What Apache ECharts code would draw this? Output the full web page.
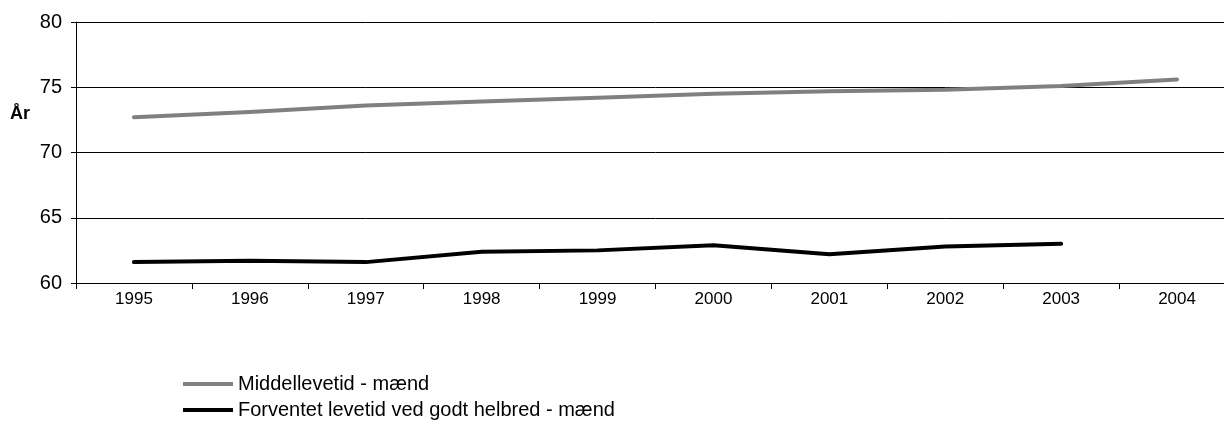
<!DOCTYPE html>
<html>
<head>
<meta charset="utf-8">
<script src="https://cdn.jsdelivr.net/npm/echarts@6/dist/echarts.min.js"></script>
<style>
html,body{margin:0;padding:0;background:#fff;overflow:hidden;width:1224px;height:429px;}
#c{width:1240px;height:429px;}
</style>
</head>
<body>
<div id="c"></div>
<script>
const years = ['1995','1996','1997','1998','1999','2000','2001','2002','2003','2004'];
const seriesNames = ['Middellevetid - mænd', 'Forventet levetid ved godt helbred - mænd'];
const middellevetid = [72.7, 73.1, 73.6, 73.9, 74.2, 74.5, 74.7, 74.8, 75.1, 75.6];
const godtHelbred = [61.6, 61.7, 61.6, 62.4, 62.5, 62.9, 62.2, 62.8, 63.0, null];
const yTicks = {min: 60, max: 80, interval: 5};
const yName = 'År';

const font = 'Liberation Sans, Arial, sans-serif';
const chart = echarts.init(document.getElementById('c'), null, {renderer: 'canvas', width: 1240, height: 429});
chart.setOption({
  animation: false,
  backgroundColor: '#fff',
  grid: {left: 76, top: 22, bottom: 146, right: 5, containLabel: false},
  xAxis: {
    type: 'category',
    data: years,
    boundaryGap: true,
    axisLine: {show: true, lineStyle: {color: '#000', width: 1}},
    axisTick: {show: true, length: 6, inside: false, lineStyle: {color: '#000'}},
    axisLabel: {color: '#000', fontSize: 17, fontFamily: font, margin: 8},
    splitLine: {show: false}
  },
  yAxis: {
    type: 'value',
    min: yTicks.min, max: yTicks.max, interval: yTicks.interval,
    axisLine: {show: true, lineStyle: {color: '#000', width: 1}},
    axisTick: {show: true, length: 5, lineStyle: {color: '#000'}},
    axisLabel: {color: '#000', fontSize: 20, fontFamily: font, margin: 14},
    splitLine: {show: true, lineStyle: {color: '#000', width: 1}}
  },
  graphic: [{
    type: 'text', left: 10, top: 105,
    style: {text: yName, font: 'bold 18px ' + font, fill: '#000'}
  }],
  legend: {
    orient: 'vertical',
    left: 178, top: 369,
    itemWidth: 50, itemHeight: 4,
    itemGap: 6,
    icon: 'rect',
    textStyle: {color: '#000', fontSize: 20, fontFamily: font},
    data: seriesNames
  },
  series: [
    {
      name: seriesNames[0], type: 'line', data: middellevetid,
      symbol: 'none', color: '#808080',
      lineStyle: {color: '#808080', width: 4, cap: 'round', join: 'round'}
    },
    {
      name: seriesNames[1], type: 'line', data: godtHelbred,
      symbol: 'none', color: '#000',
      lineStyle: {color: '#000', width: 4, cap: 'round', join: 'round'}
    }
  ]
});
</script>
</body>
</html>
